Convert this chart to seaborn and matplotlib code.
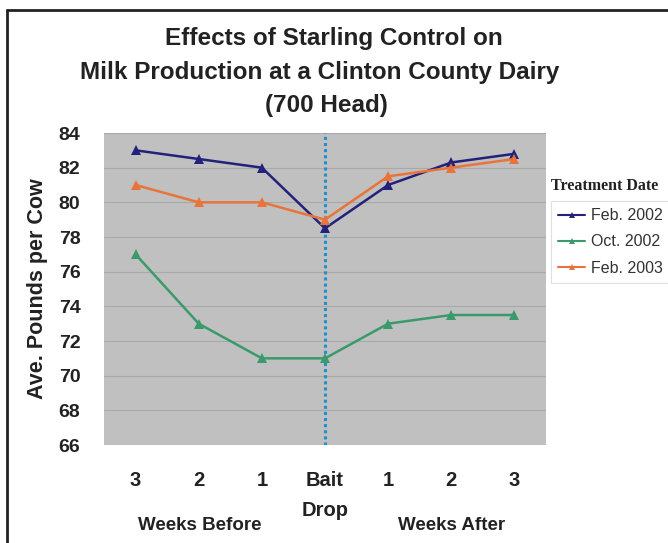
import matplotlib
matplotlib.use('Agg')
import matplotlib.pyplot as plt
from matplotlib.lines import Line2D
import seaborn as sns
import pandas as pd

# Values
weeks = [-3, -2, -1, 0, 1, 2, 3]
week_labels = ['3', '2', '1', 'Bait', '1', '2', '3']
series_names = ['Feb. 2002', 'Oct. 2002', 'Feb. 2003']
feb_2002 = [83.0, 82.5, 82.0, 78.5, 81.0, 82.3, 82.8]
oct_2002 = [77.0, 73.0, 71.0, 71.0, 73.0, 73.5, 73.5]
feb_2003 = [81.0, 80.0, 80.0, 79.0, 81.5, 82.0, 82.5]
colors = ['#23217a', '#3b9a6c', '#e8743b']

rows = []
for name, vals in zip(series_names, [feb_2002, oct_2002, feb_2003]):
    for w, v in zip(weeks, vals):
        rows.append({'Week': w, 'Pounds': v, 'Treatment': name})
df = pd.DataFrame(rows)

sns.set_theme(style='white')
plt.rcParams['font.family'] = ['Liberation Sans', 'DejaVu Sans']
dark = '#222222'

fig = plt.figure(figsize=(6.68, 5.43), dpi=100)
ax = fig.add_axes([104 / 668, 1 - 445 / 543, 442 / 668, 312 / 543])
ax.set_facecolor('#c0c0c0')

for y in range(66, 85, 2):
    ax.axhline(y, color='#a9a9a9', lw=0.8, zorder=0)

sns.lineplot(data=df, x='Week', y='Pounds', hue='Treatment', hue_order=series_names,
             palette=colors, marker='^', markersize=7.5, markeredgewidth=0,
             linewidth=1.8, ax=ax, legend=False, zorder=3)

ax.axvline(0, color='#1e8fd0', lw=2.2, ls=(0, (1, 1)), zorder=2)

ax.set_xlim(-3.5, 3.5)
ax.set_ylim(66, 84)
ax.set_yticks(range(66, 85, 2))
ax.set_yticklabels([str(v) for v in range(66, 85, 2)], fontsize=14, fontweight='bold', color=dark)
ax.set_xticks(weeks)
ax.set_xticklabels(week_labels, fontsize=14.5, fontweight='bold', color=dark)
ax.set_xticks([w + 0.5 for w in weeks[:-1]] + [-3.5, 3.5], minor=True)
ax.tick_params(axis='x', which='major', length=0, pad=19)
ax.tick_params(axis='x', which='minor', length=6, color='#dddddd', width=1)
ax.tick_params(axis='y', length=5, color='#dddddd', width=1, pad=12)
ax.set_xlabel('')
ax.set_ylabel('Ave. Pounds per Cow', fontsize=15.5, fontweight='bold', color=dark, labelpad=8)
for s in ax.spines.values():
    s.set_visible(False)

fig.text(325 / 668, 1 - 510 / 543, 'Drop', ha='center', va='center', fontsize=14.5, fontweight='bold', color=dark)
fig.text(200 / 668, 1 - 525 / 543, 'Weeks Before', ha='center', va='center', fontsize=13.5, fontweight='bold', color=dark)
fig.text(452 / 668, 1 - 525 / 543, 'Weeks After', ha='center', va='center', fontsize=13.5, fontweight='bold', color=dark)

fig.text(334 / 668, 1 - 38 / 543, 'Effects of Starling Control on', ha='center', va='center',
         fontsize=17.5, fontweight='bold', color=dark)
fig.text(320 / 668, 1 - 72 / 543, 'Milk Production at a Clinton County Dairy', ha='center', va='center',
         fontsize=17.5, fontweight='bold', color=dark)
fig.text(326 / 668, 1 - 106 / 543, '(700 Head)', ha='center', va='center',
         fontsize=17.5, fontweight='bold', color=dark)

# legend outside the axes, title sits above the box
handles = [Line2D([], [], color=c, marker='^', markersize=5, markeredgewidth=0, lw=1.5) for c in colors]
leg = fig.legend(handles, series_names, loc='upper left', bbox_to_anchor=(551 / 668, 1 - 201 / 543),
                 frameon=True, fontsize=11.5, handlelength=1.7, handletextpad=0.35, labelspacing=0.7,
                 borderpad=0.45, borderaxespad=0, fancybox=False)
leg.get_frame().set_edgecolor('#d8d8d8')
leg.get_frame().set_linewidth(0.8)
for t in leg.get_texts():
    t.set_color('#333333')
fig.text(551 / 668, 1 - 186 / 543, 'Treatment Date', ha='left', va='center', fontsize=11.5,
         fontweight='bold', family=['Liberation Serif', 'DejaVu Serif'], color=dark)

# outer frame (left and top edges visible)
fig.add_artist(Line2D([7 / 668, 7 / 668], [0, 1 - 10 / 543], transform=fig.transFigure, color=dark, lw=2))
fig.add_artist(Line2D([7 / 668, 1], [1 - 10 / 543, 1 - 10 / 543], transform=fig.transFigure, color=dark, lw=2))

fig.savefig('out.png', dpi=100)
